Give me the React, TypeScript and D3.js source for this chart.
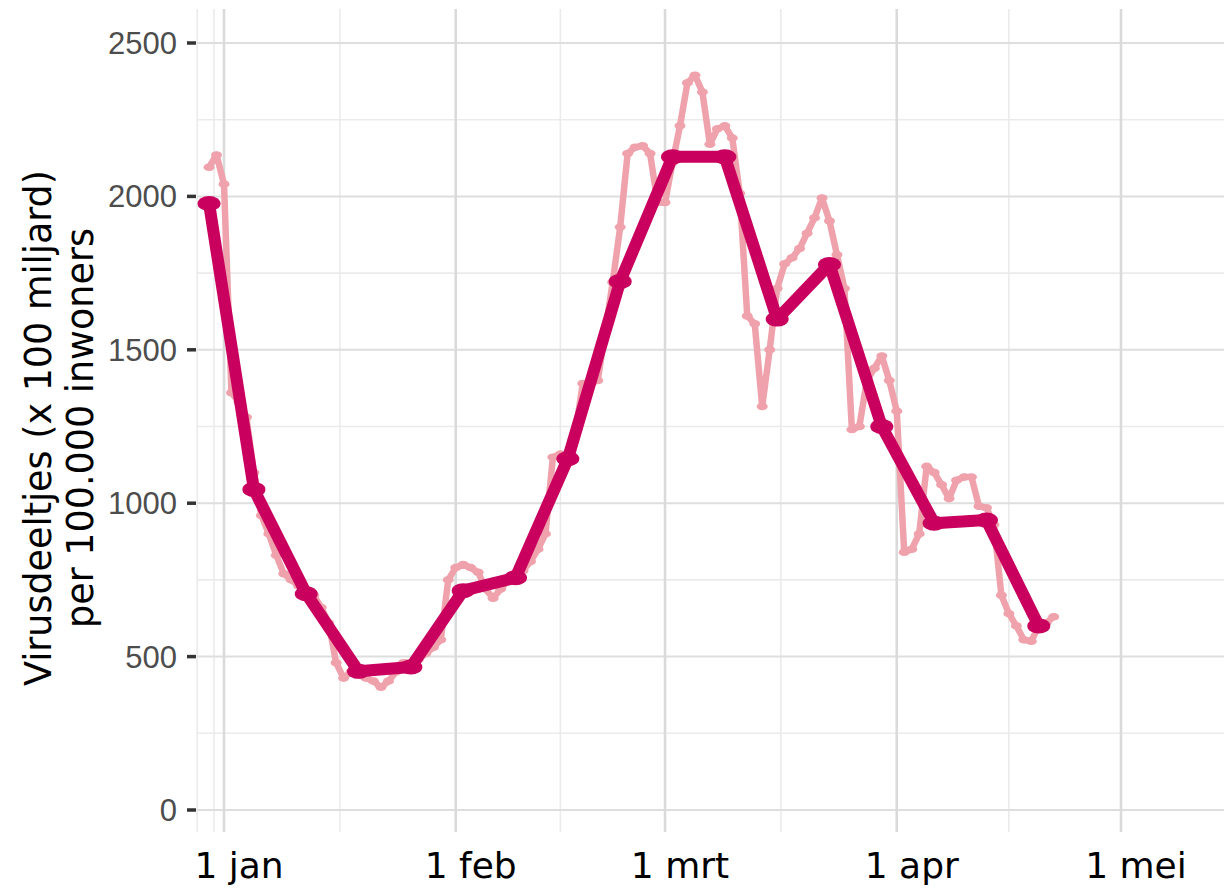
import React from 'react';
import * as d3 from 'd3';

const W = 1224;
const H = 888;

// daily series (light pink), consecutive days starting at dailyStart
const dailyStart = '2022-12-30';
const dailyValues = [
  2095, 2135, 2040, 1360, 1330, 1280, 1100, 960, 900, 830,
  770, 750, 730, 710, 700, 660, 610, 480, 430, 450,
  440, 430, 420, 400, 420, 450, 480, 480, 490, 510,
  530, 555, 750, 790, 800, 790, 775, 720, 690, 720,
  750, 770, 780, 810, 850, 900, 1150, 1160, 1140, 1230,
  1390, 1390, 1400, 1560, 1720, 1900, 2140, 2160, 2165, 2140,
  1980, 1980, 2110, 2230, 2370, 2395, 2340, 2170, 2220, 2230,
  2190, 2010, 1610, 1585, 1315, 1500, 1700, 1780, 1800, 1830,
  1880, 1930, 1995, 1920, 1810, 1700, 1240, 1250, 1400, 1440,
  1480, 1400, 1300, 840, 850, 900, 1120, 1100, 1060, 1015,
  1075, 1085, 1085, 990, 985, 930, 700, 640, 600, 555,
  550, 600, 610, 630,
];

// weekly series (dark magenta)
const weeklyDates = [
  '2022-12-30', '2023-01-05', '2023-01-12', '2023-01-19', '2023-01-26',
  '2023-02-02', '2023-02-09', '2023-02-16', '2023-02-23', '2023-03-02',
  '2023-03-09', '2023-03-16', '2023-03-23', '2023-03-30', '2023-04-06',
  '2023-04-13', '2023-04-20',
];
const weeklyValues = [
  1977, 1045, 705, 452, 466, 715, 757, 1145, 1723, 2129,
  2129, 1600, 1778, 1250, 935, 945, 600,
];

const yTicks = [0, 500, 1000, 1500, 2000, 2500];
const yMinorTicks = [250, 750, 1250, 1750, 2250];
const xTicks = ['2023-01-01', '2023-02-01', '2023-03-01', '2023-04-01', '2023-05-01'];
const xTickLabels = ['1 jan', '1 feb', '1 mrt', '1 apr', '1 mei'];
const xMinorTicks = [
  '2022-12-28T10:00:00Z', '2022-12-30T16:00:00Z', '2023-01-16T12:00:00Z',
  '2023-02-15T00:00:00Z', '2023-03-16T12:00:00Z', '2023-04-16T00:00:00Z',
];
const yTitleLines = ['Virusdeeltjes (x 100 miljard)', 'per 100.000 inwoners'];

const PINK = '#EFA2AC';
const DARK = '#C9005E';

const toDate = (s: string) => new Date(s.length <= 10 ? s + 'T00:00:00Z' : s);

export default function App() {
  const panel = { left: 197, right: W, top: 9, bottom: 832 };

  const x = d3
    .scaleUtc()
    .domain([toDate('2023-01-01'), toDate('2023-05-01')])
    .range([224, 1121]);
  const y = d3.scaleLinear().domain([0, 2500]).range([810, 43]);

  const start = toDate(dailyStart);
  const daily = dailyValues.map((v, i) => ({ date: d3.utcDay.offset(start, i), v }));
  const weekly = weeklyValues.map((v, i) => ({ date: toDate(weeklyDates[i]), v }));

  const line = d3
    .line<{ date: Date; v: number }>()
    .x((d) => x(d.date))
    .y((d) => y(d.v));

  return (
    <svg
      width={W}
      height={H}
      style={{ position: 'absolute', left: 0, top: 0, background: '#fff' }}
    >
      <rect x={0} y={0} width={W} height={H} fill="#fff" />
      {/* minor grid */}
      {yMinorTicks.map((t) => (
        <line key={'ym' + t} x1={panel.left} x2={panel.right} y1={y(t)} y2={y(t)} stroke="#ebebeb" strokeWidth={1.6} />
      ))}
      {xMinorTicks.map((t) => (
        <line key={'xm' + t} x1={x(toDate(t))} x2={x(toDate(t))} y1={panel.top} y2={panel.bottom} stroke="#ebebeb" strokeWidth={1.6} />
      ))}
      {/* major grid */}
      {yTicks.map((t) => (
        <line key={'y' + t} x1={panel.left} x2={panel.right} y1={y(t)} y2={y(t)} stroke="#dedede" strokeWidth={2} />
      ))}
      {xTicks.map((t) => (
        <line key={'x' + t} x1={x(toDate(t))} x2={x(toDate(t))} y1={panel.top} y2={panel.bottom} stroke="#dadada" strokeWidth={2.6} />
      ))}

      {/* daily line */}
      <path d={line(daily) || ''} fill="none" stroke={PINK} strokeWidth={6.5} strokeLinejoin="round" strokeLinecap="round" />
      {daily.map((d, i) => (
        <ellipse key={'dp' + i} cx={x(d.date)} cy={y(d.v)} rx={5.5} ry={3.8} fill={PINK} />
      ))}

      {/* weekly line */}
      <path d={line(weekly) || ''} fill="none" stroke={DARK} strokeWidth={12} strokeLinejoin="round" strokeLinecap="butt" />
      {weekly.map((d, i) => (
        <ellipse key={'wp' + i} cx={x(d.date)} cy={y(d.v)} rx={11.5} ry={7.5} fill={DARK} />
      ))}

      {/* y axis ticks + labels */}
      {yTicks.map((t) => (
        <g key={'yt' + t}>
          <line x1={187} x2={196} y1={y(t)} y2={y(t)} stroke="#333" strokeWidth={3.5} />
          <text
            x={177}
            y={y(t) + 11}
            textAnchor="end"
            fontFamily="'Liberation Sans', Arial, sans-serif"
            fontSize={31}
            fill="#4d4d4d"
          >
            {t}
          </text>
        </g>
      ))}

      {/* x labels */}
      {xTicks.map((t, i) => (
        <text
          key={'xl' + t}
          x={x(toDate(t)) + 15}
          y={878}
          textAnchor="middle"
          fontFamily="'DejaVu Sans', Verdana, sans-serif"
          fontSize={36}
          fill="#000"
        >
          {xTickLabels[i]}
        </text>
      ))}

      {/* y title */}
      {yTitleLines.map((s, i) => (
        <text
          key={'yt' + i}
          transform={`translate(${51 + i * 42}, 428) rotate(-90)`}
          textAnchor="middle"
          fontFamily="'DejaVu Sans', Verdana, sans-serif"
          fontSize={36.5}
          fill="#000"
        >
          {s}
        </text>
      ))}
    </svg>
  );
}
